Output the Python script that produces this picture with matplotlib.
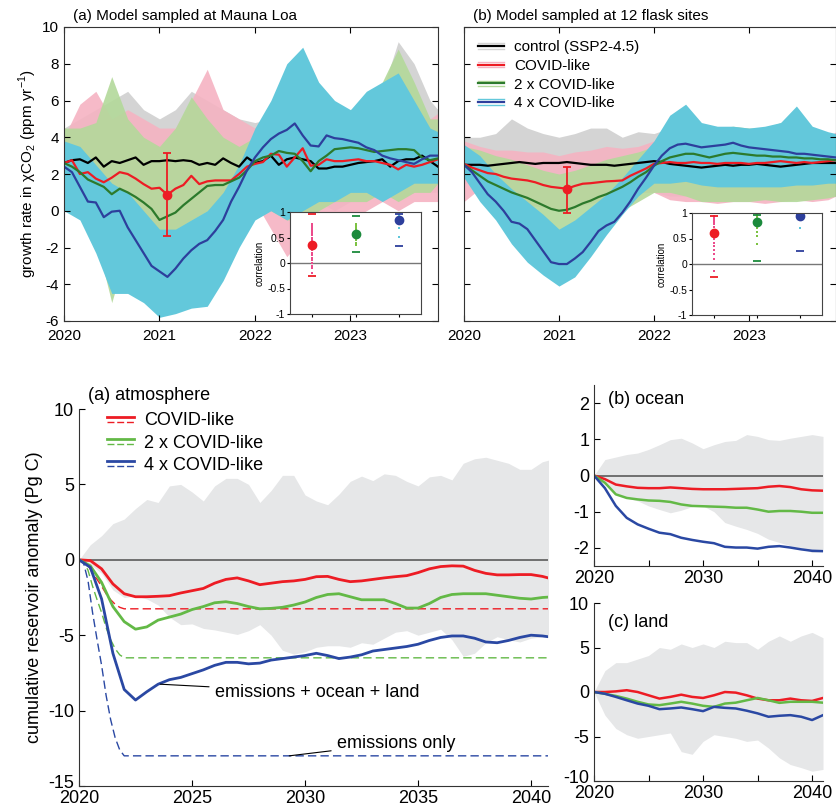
import numpy as np
import matplotlib
matplotlib.use('Agg')
import matplotlib.pyplot as plt
from matplotlib.legend_handler import HandlerBase
from matplotlib.lines import Line2D
from matplotlib.transforms import ScaledTranslation

plt.rcParams['font.family'] = ['Liberation Sans', 'DejaVu Sans']
plt.rcParams['axes.unicode_minus'] = False
plt.rcParams['mathtext.fontset'] = 'custom'
plt.rcParams['mathtext.rm'] = 'Liberation Sans'

# ---------------- top panels: monthly growth rate (ppm/yr) ----------------
months = np.arange(48)
t_month = 2020 + months / 12
env_months = np.r_[np.arange(0, 48, 2), 47]
t_env = 2020 + env_months / 12

ctrl_a = [2.6, 2.75, 2.8, 2.6, 2.9, 2.4, 2.7, 2.6, 2.75, 2.9, 2.5, 2.7, 2.7, 2.75, 2.7, 2.75,
          2.7, 2.5, 2.6, 2.5, 2.85, 2.6, 2.4, 2.9, 2.6, 2.7, 3.0, 2.5, 2.8, 2.9, 2.8, 2.7,
          2.3, 2.3, 2.4, 2.4, 2.5, 2.6, 2.65, 2.7, 2.8, 2.4, 2.7, 2.8, 2.8, 3.0, 2.7, 2.4]
covid_a = [2.6, 2.75, 2.0, 2.1, 1.75, 1.55, 1.8, 2.1, 2.0, 1.75, 1.45, 1.2, 1.25, 0.87, 1.2, 1.4,
           1.9, 1.45, 1.6, 1.65, 1.65, 1.65, 2.0, 2.4, 2.55, 2.65, 3.1, 3.05, 2.4, 2.9, 3.4, 2.45,
           2.5, 2.8, 2.7, 2.7, 2.75, 2.8, 2.7, 2.7, 2.6, 2.5, 2.25, 2.5, 2.4, 2.5, 2.65, 2.8]
covid2_a = [2.6, 2.4, 2.1, 1.7, 1.5, 1.3, 0.9, 1.2, 1.0, 0.75, 0.45, 0.1, -0.5, -0.3, -0.1, 0.3,
            0.65, 1.0, 1.35, 1.4, 1.4, 1.6, 1.8, 2.2, 2.7, 2.9, 3.0, 3.25, 3.15, 3.1, 2.7, 2.15,
            2.7, 3.0, 3.35, 3.4, 3.45, 3.4, 3.3, 3.2, 3.25, 3.3, 3.35, 3.35, 3.3, 2.9, 2.75, 2.85]
covid4_a = [2.4, 2.1, 1.3, 0.5, 0.45, -0.35, -0.05, 0.0, -0.9, -1.6, -2.3, -3.0, -3.3, -3.6, -3.15, -2.6,
            -2.15, -1.8, -1.6, -1.1, -0.5, 0.5, 1.3, 2.2, 2.9, 3.45, 3.9, 4.2, 4.4, 4.75, 4.1, 3.55,
            3.5, 4.1, 3.95, 3.9, 3.8, 3.7, 3.45, 3.3, 3.0, 2.85, 2.75, 2.65, 2.55, 2.8, 3.0, 3.0]

ctrl_b = [2.5, 2.5, 2.5, 2.45, 2.5, 2.55, 2.6, 2.65, 2.6, 2.55, 2.6, 2.6, 2.6, 2.65, 2.6, 2.55,
          2.5, 2.5, 2.5, 2.45, 2.5, 2.55, 2.6, 2.65, 2.7, 2.65, 2.55, 2.5, 2.45, 2.4, 2.35, 2.4,
          2.45, 2.5, 2.45, 2.5, 2.5, 2.55, 2.5, 2.45, 2.4, 2.45, 2.5, 2.55, 2.6, 2.6, 2.6, 2.6]
covid_b = [2.55, 2.35, 2.2, 2.05, 2.0, 1.85, 1.75, 1.7, 1.65, 1.55, 1.4, 1.3, 1.25, 1.2, 1.35, 1.47,
           1.5, 1.55, 1.6, 1.62, 1.65, 1.9, 2.1, 2.3, 2.55, 2.6, 2.65, 2.6, 2.6, 2.65, 2.6, 2.6,
           2.55, 2.6, 2.6, 2.6, 2.55, 2.6, 2.6, 2.65, 2.7, 2.65, 2.6, 2.65, 2.6, 2.65, 2.7, 2.75]
covid2_b = [2.5, 2.2, 1.9, 1.6, 1.4, 1.2, 1.0, 0.85, 0.7, 0.5, 0.3, 0.1, 0.0, 0.05, 0.2, 0.4,
            0.55, 0.75, 0.9, 1.1, 1.3, 1.55, 1.85, 2.1, 2.45, 2.7, 2.9, 3.0, 3.1, 3.1, 3.0, 2.9,
            3.0, 3.1, 3.15, 3.1, 3.05, 3.0, 3.0, 2.95, 2.95, 2.9, 2.9, 2.85, 2.85, 2.8, 2.8, 2.75]
covid4_b = [2.5, 2.1, 1.5, 0.9, 0.5, 0.0, -0.6, -0.7, -1.0, -1.6, -2.2, -2.8, -2.9, -2.9, -2.6, -2.25,
            -1.7, -1.1, -0.8, -0.6, -0.1, 0.5, 1.2, 1.8, 2.45, 3.0, 3.4, 3.6, 3.65, 3.55, 3.45, 3.5,
            3.55, 3.6, 3.7, 3.55, 3.45, 3.4, 3.35, 3.3, 3.25, 3.2, 3.1, 3.1, 3.05, 3.0, 2.95, 2.9]

# ensemble spread (upper / lower edge of the members), every second month
grey_hi_a = [4.5, 5.0, 5.5, 6.0, 6.5, 5.5, 5.0, 5.5, 6.5, 6.0, 5.5, 5.0, 4.8, 5.0, 5.5, 6.0, 5.0, 5.5, 5.0, 5.5, 6.5, 9.2, 8.0, 6.0, 5.5]
grey_lo_a = [1.5, 1.0, 1.5, 1.0, 1.5, 1.0, 1.5, 1.0, 1.0, 0.5, 0.5, 1.0, 0.5, 0.0, -0.5, 0.0, 0.5, 0.0, 0.5, 0.5, 1.0, 0.5, 1.0, 1.0, 1.0]
pink_hi_a = [4.0, 5.8, 6.5, 5.0, 5.5, 5.0, 4.5, 4.5, 6.0, 7.7, 5.5, 5.0, 4.5, 5.5, 6.0, 6.5, 5.0, 5.0, 4.5, 5.0, 6.0, 6.5, 5.5, 5.0, 5.3]
pink_lo_a = [1.0, 0.5, 0.0, -0.5, -0.5, -1.0, -1.5, -1.0, -0.5, 0.0, 0.5, 0.5, 0.5, -1.0, -2.5, -1.5, -1.0, -0.5, -0.5, 0.0, 0.5, 0.0, 0.5, 0.5, 0.5]
green_hi_a = [4.5, 4.5, 4.8, 7.3, 5.0, 4.0, 3.5, 4.5, 6.2, 5.0, 4.0, 3.5, 4.0, 5.5, 7.5, 6.0, 5.5, 5.5, 5.5, 6.0, 7.0, 8.8, 7.0, 5.0, 5.0]
green_lo_a = [1.0, 0.0, -1.5, -5.0, -2.0, -2.0, -2.0, -1.8, -1.0, -0.5, 0.0, 0.5, 0.5, 0.0, -0.5, -0.5, 0.0, 0.5, 0.5, 0.5, 1.0, 0.5, 1.0, 1.0, 1.5]
cyan_hi_a = [3.8, 3.5, 2.5, 1.5, 1.0, 0.0, -1.0, -1.0, -0.5, 0.0, 1.0, 2.5, 4.5, 6.0, 8.0, 8.9, 7.0, 6.0, 5.5, 6.5, 7.0, 7.5, 6.0, 4.5, 4.3]
cyan_lo_a = [0.0, -0.5, -2.3, -4.5, -4.5, -5.0, -5.8, -5.6, -5.3, -5.2, -3.8, -2.0, -0.5, 0.0, -0.5, 0.0, 0.5, 0.5, 1.0, 1.0, 0.5, 1.0, 1.5, 1.5, 1.5]

grey_hi_b = [4.0, 4.0, 4.2, 5.0, 4.5, 4.2, 4.0, 4.2, 4.5, 4.5, 4.0, 4.3, 4.2, 4.5, 5.0, 4.5, 4.2, 4.0, 4.3, 4.5, 4.5, 4.8, 4.5, 4.2, 4.0]
grey_lo_b = [1.5, 1.5, 1.5, 1.3, 1.2, 1.0, 1.0, 1.2, 1.3, 1.3, 1.2, 1.2, 1.0, 0.8, 0.8, 0.7, 0.8, 0.8, 0.8, 0.7, 0.8, 0.8, 0.9, 1.0, 1.0]
pink_hi_b = [3.8, 3.5, 3.3, 3.3, 3.2, 3.2, 3.0, 3.2, 3.3, 3.5, 3.4, 3.5, 3.8, 4.0, 4.2, 4.0, 3.8, 4.0, 4.2, 4.0, 4.5, 4.2, 4.0, 4.0, 4.3]
pink_lo_b = [0.5, 1.2, 0.8, 0.5, 0.3, 0.2, 0.0, 0.2, 0.4, 0.6, 0.8, 1.0, 1.0, 0.6, 0.5, 0.5, 0.4, 0.5, 0.5, 0.4, 0.5, 0.6, 0.5, 0.6, 0.8]
green_hi_b = [3.5, 3.3, 3.0, 2.8, 2.5, 2.2, 2.0, 2.2, 2.5, 2.8, 3.0, 3.2, 3.5, 4.2, 4.5, 4.5, 4.5, 4.6, 4.5, 4.5, 4.8, 5.0, 4.5, 4.2, 4.0]
green_lo_b = [1.8, 1.0, 0.5, 0.0, -0.5, -1.0, -1.5, -1.3, -1.0, -0.5, 0.0, 0.5, 1.0, 1.0, 0.8, 0.5, 0.5, 0.5, 0.5, 0.6, 0.5, 0.5, 0.6, 0.7, 0.8]
cyan_hi_b = [3.6, 3.0, 2.0, 1.2, 0.5, -0.2, -1.0, -0.5, 0.2, 0.9, 1.8, 2.8, 3.8, 5.2, 5.8, 4.8, 4.6, 4.6, 4.5, 4.6, 4.8, 5.7, 4.6, 4.3, 4.2]
cyan_lo_b = [1.8, 0.5, -0.5, -1.8, -2.8, -3.5, -4.1, -3.6, -2.5, -1.3, -0.2, 0.8, 1.5, 1.5, 1.6, 1.4, 1.3, 1.3, 1.3, 1.3, 1.3, 1.4, 1.4, 1.5, 1.5]

# error bar on the COVID-like mean (centre, low, high)
err_t = 2021.083
err_a = (0.87, -1.35, 3.12)
err_b = (1.18, -0.1, 2.4)

# inset correlations: ensemble mean, member values, min, max
corr_mean_a = [0.36, 0.56, 0.85]
corr_min_a = [-0.26, 0.22, 0.33]
corr_max_a = [0.97, 0.92, 0.97]
corr_dots_a = [[0.77, 0.74, 0.70, 0.66, 0.62, 0.58, 0.55, 0.50, 0.46, 0.42, 0.38, 0.33, 0.30, 0.25,
                0.20, 0.15, 0.10, 0.05, 0.0, -0.05, -0.1, -0.2],
               [0.77, 0.74, 0.70, 0.66, 0.62, 0.60, 0.52, 0.48, 0.45, 0.40, 0.36],
               [0.95, 0.92, 0.68, 0.51]]
corr_mean_b = [0.61, 0.83, 0.95]
corr_min_b = [-0.26, 0.05, 0.26]
corr_max_b = [0.95, 0.97, 0.99]
corr_dots_b = [[0.95, 0.9, 0.86, 0.82, 0.78, 0.72, 0.66, 0.58, 0.5, 0.42, 0.35, 0.27, 0.2, 0.1, -0.13],
               [0.97, 0.93, 0.9, 0.86, 0.78, 0.74, 0.7, 0.62, 0.55, 0.4],
               [0.97, 0.71]]

# ---------------- bottom panels: cumulative reservoir anomaly (Pg C) ----------------
atm_t = np.arange(2020, 2041.01, 0.5)
atm_covid = [0, -0.05, -0.6, -1.6, -2.25, -2.45, -2.45, -2.42, -2.38, -2.2, -2.05, -1.9, -1.55, -1.3, -1.2,
             -1.4, -1.65, -1.55, -1.45, -1.4, -1.3, -1.12, -1.1, -1.3, -1.45, -1.4, -1.3, -1.2, -1.12,
             -1.05, -0.85, -0.6, -0.45, -0.4, -0.42, -0.7, -0.9, -1.0, -1.0, -0.98, -0.98, -1.1, -1.3]
atm_covid2 = [0, -0.4, -1.5, -3.1, -4.1, -4.6, -4.45, -4.0, -3.8, -3.6, -3.3, -3.1, -2.85, -2.78, -2.9,
              -3.1, -3.25, -3.22, -3.15, -3.0, -2.8, -2.5, -2.3, -2.25, -2.45, -2.65, -2.65, -2.65, -2.9,
              -3.2, -3.2, -2.9, -2.5, -2.3, -2.25, -2.25, -2.25, -2.35, -2.45, -2.55, -2.6, -2.5, -2.45]
atm_covid4 = [0, -0.5, -2.6, -6.2, -8.6, -9.3, -8.75, -8.25, -7.95, -7.8, -7.55, -7.3, -7.0, -6.8, -6.8,
              -6.9, -6.85, -6.65, -6.55, -6.45, -6.35, -6.2, -6.35, -6.55, -6.45, -6.3, -6.05, -5.95, -5.85,
              -5.75, -5.6, -5.35, -5.15, -5.05, -5.05, -5.2, -5.45, -5.5, -5.35, -5.15, -5.0, -5.05, -5.15]
atm_hi = [0, 1.0, 1.6, 2.4, 2.7, 3.4, 4.0, 3.8, 4.9, 5.0, 4.5, 3.9, 4.9, 5.4, 5.4, 5.0, 3.8, 4.6, 5.6, 5.6,
          4.3, 3.9, 3.65, 4.35, 5.2, 5.55, 5.25, 5.7, 5.6, 5.2, 4.9, 5.5, 5.6, 5.3, 6.4, 6.7, 6.8, 6.6,
          6.4, 6.0, 6.0, 6.5, 6.7]
atm_lo = [0, -0.3, -0.9, -2.0, -2.5, -2.4, -2.6, -3.0, -3.8, -4.3, -4.25, -4.55, -4.65, -4.8, -4.95, -4.7,
          -4.3, -5.0, -6.0, -6.25, -6.1, -5.8, -5.7, -5.7, -5.8, -5.5, -5.6, -5.2, -4.8, -4.7, -5.0, -4.8,
          -4.6, -5.3, -6.4, -6.2, -5.5, -5.1, -5.3, -5.45, -5.2, -5.1, -5.2]
emis_t = [2020, 2020.2, 2020.4, 2020.6, 2020.8, 2021.0, 2021.2, 2021.4, 2021.6, 2021.8, 2022.0, 2041]
emis_covid = [0, -0.05, -0.35, -0.9, -1.3, -1.75, -2.25, -2.65, -2.95, -3.15, -3.25, -3.25]
emis_covid2 = [0, -0.1, -0.7, -1.75, -2.65, -3.5, -4.5, -5.3, -5.9, -6.3, -6.5, -6.5]
emis_covid4 = [0, -0.2, -1.4, -3.5, -5.3, -7.0, -9.0, -10.6, -11.8, -12.6, -13.0, -13.0]

yr = np.arange(2020, 2042)
ocean_covid = [0, -0.1, -0.25, -0.3, -0.34, -0.35, -0.35, -0.33, -0.35, -0.37, -0.38, -0.38, -0.38, -0.37,
               -0.36, -0.35, -0.31, -0.29, -0.32, -0.38, -0.41, -0.42]
ocean_covid2 = [0, -0.2, -0.52, -0.62, -0.66, -0.69, -0.7, -0.73, -0.8, -0.84, -0.85, -0.86, -0.87, -0.89,
                -0.89, -0.94, -1.0, -0.98, -0.98, -1.0, -1.03, -1.03]
ocean_covid4 = [0, -0.35, -0.84, -1.17, -1.35, -1.47, -1.58, -1.62, -1.72, -1.78, -1.83, -1.87, -1.97, -1.99,
                -1.99, -2.02, -1.97, -1.95, -1.99, -2.04, -2.08, -2.09]
ocean_hi = [0, 0.44, 0.51, 0.58, 0.62, 0.72, 0.85, 0.99, 1.03, 0.9, 0.74, 0.85, 0.94, 0.97, 1.13, 1.08, 0.99,
            0.97, 1.03, 1.08, 1.13, 1.08]
ocean_lo = [0, -0.25, -0.48, -0.62, -0.7, -0.84, -0.94, -1.03, -0.96, -0.86, -0.84, -1.0, -1.3, -1.4, -1.49,
            -1.6, -1.76, -1.85, -1.94, -2.0, -2.13, -2.1]
land_covid = [0, 0, 0.07, 0.2, 0.0, -0.37, -0.74, -0.55, -0.3, -0.55, -0.67, -0.37, 0.0, -0.07, -0.37, -0.74,
              -0.93, -0.93, -0.74, -0.93, -1.0, -0.67]
land_covid2 = [0, -0.2, -0.44, -0.74, -1.1, -1.4, -1.48, -1.3, -1.1, -1.3, -1.55, -1.67, -1.3, -1.2, -0.93,
               -0.67, -0.93, -1.22, -1.1, -1.1, -1.1, -1.2]
land_covid4 = [0, -0.2, -0.55, -0.93, -1.3, -1.55, -1.93, -1.85, -1.74, -1.93, -2.15, -1.67, -1.78, -1.85, -2.1,
               -2.4, -2.78, -2.67, -2.6, -2.78, -3.15, -2.6]
land_hi = [0, 2.4, 3.3, 3.3, 3.7, 4.1, 5.0, 4.8, 5.4, 5.0, 5.4, 5.0, 5.7, 5.55, 5.55, 4.8, 5.7, 6.3, 5.7, 6.3,
           6.7, 6.1]
land_lo = [0, -2.6, -4.1, -4.8, -5.2, -5.0, -4.8, -4.6, -6.7, -7.0, -5.55, -4.8, -5.0, -5.2, -5.55, -5.4, -6.3,
           -7.4, -8.15, -8.5, -8.9, -8.7]

# colours
c_ctrl, c_ctrl_l = '#000000', '#d4d4d4'
c_red, c_red_l = '#ed1c24', '#f5b3c2'
c_dgr, c_dgr_l = '#2c7a2c', '#b3d99a'
c_dbl, c_dbl_l = '#2d3f9c', '#63c8db'
c_grn2 = '#63b946'
c_blu2 = '#2a48a3'
c_band = '#e6e7e8'


class Stack:
    def __init__(self, specs):
        self.specs = specs


class HandlerStack(HandlerBase):
    def create_artists(self, legend, orig_handle, xdescent, ydescent, width, height, fontsize, trans):
        arts = []
        y0 = (height - ydescent) / 2.
        for dy, kw in orig_handle.specs:
            arts.append(Line2D([-xdescent, width - xdescent], [y0 + dy, y0 + dy], transform=trans, **kw))
        return arts


def top_panel(ax, means, envs, err, title, ylabels=True):
    for (hi, lo), col, a in zip(envs, [c_ctrl_l, c_red_l, c_dgr_l, c_dbl_l], [1, 0.9, 0.9, 1]):
        ax.fill_between(t_env, lo, hi, color=col, alpha=a, lw=0)
    for m, col in zip(means, [c_ctrl, c_red, c_dgr, c_dbl]):
        ax.plot(t_month, m, color=col, lw=1.6)
    c, lo, hi = err
    ax.errorbar([err_t], [c], yerr=[[c - lo], [hi - c]], color=c_red, lw=1.3, capsize=3,
                capthick=1.3, marker='o', ms=6)
    ax.set_xlim(2020, 2023.917)
    ax.set_ylim(-6, 10)
    ax.set_xticks([2020, 2021, 2022, 2023])
    ax.set_yticks(np.arange(-6, 11, 2))
    if not ylabels:
        ax.set_yticklabels([])
    ax.tick_params(direction='in', top=True, right=True, labelsize=11, length=4)
    ax.tick_params(axis='x', pad=6)
    for s in ax.spines.values():
        s.set_color('#333333')
    ax.text(0.025, 1.015, title, transform=ax.transAxes, fontsize=11, va='bottom', ha='left')


def inset(ax, mean, dots, mn, mx):
    ax.axhline(0, color='#777777', lw=1)
    dot_cols = ['#ec4c8c', '#7cc242', '#5ec6da']
    main_cols = [c_red, '#1b8a3c', c_dbl]
    for i in range(3):
        x = i + 1
        ax.plot([x] * len(dots[i]), dots[i], 's', ms=1.6, color=dot_cols[i], mew=0)
        ax.plot([x, x], [mn[i], mx[i]], '_', ms=6, mew=1.3, color=main_cols[i])
        ax.plot([x], [mean[i]], 'o', ms=6, color=main_cols[i])
    ax.set_xlim(0.5, 3.5)
    ax.set_ylim(-1, 1)
    ax.set_xticks([1, 2, 3])
    ax.set_xticklabels([])
    ax.set_yticks([-1, -0.5, 0, 0.5, 1])
    ax.set_yticklabels(['-1', '-0.5', '0', '0.5', '1'])
    ax.tick_params(direction='out', labelsize=7.5, length=2, pad=1.5)
    ax.set_ylabel('correlation', fontsize=7, labelpad=2)
    for s in ax.spines.values():
        s.set_color('#444444')


W, H = 836, 811
fig = plt.figure(figsize=(W / 100, H / 100), dpi=100)


def box(l, t, r, b):
    return [l / W, 1 - b / H, (r - l) / W, (b - t) / H]


ax_a = fig.add_axes(box(64, 27, 438, 321))
ax_b = fig.add_axes(box(464, 27, 836, 321))

top_panel(ax_a, [ctrl_a, covid_a, covid2_a, covid4_a],
          [(grey_hi_a, grey_lo_a), (pink_hi_a, pink_lo_a), (green_hi_a, green_lo_a), (cyan_hi_a, cyan_lo_a)],
          err_a, '(a) Model sampled at Mauna Loa')
top_panel(ax_b, [ctrl_b, covid_b, covid2_b, covid4_b],
          [(grey_hi_b, grey_lo_b), (pink_hi_b, pink_lo_b), (green_hi_b, green_lo_b), (cyan_hi_b, cyan_lo_b)],
          err_b, '(b) Model sampled at 12 flask sites', ylabels=False)
ax_a.set_ylabel('growth rate in χCO$_2$ (ppm yr$^{-1}$)', fontsize=11, labelpad=2)

top_handles = [Stack([(2, dict(color=l, lw=1)), (-2, dict(color=l, lw=1)), (0, dict(color=d, lw=1.6))])
               for d, l in [(c_ctrl, c_ctrl_l), (c_red, c_red_l), (c_dgr, c_dgr_l), (c_dbl, c_dbl_l)]]
ax_b.legend(top_handles, ['control (SSP2-4.5)', 'COVID-like', '2 x COVID-like', '4 x COVID-like'],
            handler_map={Stack: HandlerStack()}, loc='upper left', bbox_to_anchor=(0.02, 0.975),
            frameon=False, fontsize=11, handlelength=1.7, handletextpad=0.7, labelspacing=0.3,
            borderaxespad=0)

in_a = fig.add_axes(box(290, 212, 421, 314))
in_b = fig.add_axes(box(692, 213, 822, 315))
inset(in_a, corr_mean_a, corr_dots_a, corr_min_a, corr_max_a)
inset(in_b, corr_mean_b, corr_dots_b, corr_min_b, corr_max_b)

# ---------------- bottom ----------------
def bottom_style(ax, size=13):
    ax.spines['top'].set_visible(False)
    ax.spines['right'].set_visible(False)
    for s in ax.spines.values():
        s.set_color('#333333')
    ax.tick_params(direction='in', labelsize=size, length=4)
    ax.tick_params(axis='x', pad=3)


def lift_lowest(ax):
    lab = ax.yaxis.get_major_ticks()[0].label1
    lab.set_transform(lab.get_transform() + ScaledTranslation(0, 3 / 72, fig.dpi_scale_trans))


ax_atm = fig.add_axes(box(79, 409, 548, 786))
ax_atm.fill_between(atm_t, atm_lo, atm_hi, color=c_band, lw=0)
ax_atm.axhline(0, color='#666666', lw=1.3)
ax_atm.plot(emis_t, emis_covid, '--', color=c_red, lw=1, dashes=(6, 3))
ax_atm.plot(emis_t, emis_covid2, '--', color=c_grn2, lw=1, dashes=(6, 3))
ax_atm.plot(emis_t, emis_covid4, '--', color=c_blu2, lw=1, dashes=(6, 3))
ax_atm.plot(atm_t, atm_covid, color=c_red, lw=2)
ax_atm.plot(atm_t, atm_covid2, color=c_grn2, lw=2)
ax_atm.plot(atm_t, atm_covid4, color=c_blu2, lw=2)
ax_atm.set_xlim(2020, 2040.75)
ax_atm.set_ylim(-15, 10)
ax_atm.set_xticks([2020, 2025, 2030, 2035, 2040])
ax_atm.set_yticks([-15, -10, -5, 0, 5, 10])
bottom_style(ax_atm)
lift_lowest(ax_atm)
ax_atm.set_ylabel('cumulative reservoir anomaly (Pg C)', fontsize=13, labelpad=4)
ax_atm.text(0.02, 1.035, '(a) atmosphere', transform=ax_atm.transAxes, fontsize=13, va='center')
ax_atm.annotate('emissions + ocean + land', xy=(2023.6, -8.25), xytext=(2026.0, -8.8),
                fontsize=13, va='center', ha='left',
                arrowprops=dict(arrowstyle='-', color='k', lw=0.8, shrinkA=2, shrinkB=0))
ax_atm.annotate('emissions only', xy=(2029.3, -13.0), xytext=(2031.4, -12.15),
                fontsize=13, va='center', ha='left',
                arrowprops=dict(arrowstyle='-', color='k', lw=0.8, shrinkA=2, shrinkB=0))
bot_handles = [Stack([(1.8, dict(color=c, lw=2)), (-1.8, dict(color=c, lw=1, ls=(0, (5, 2))))])
               for c in [c_red, c_grn2, c_blu2]]
ax_atm.legend(bot_handles, ['COVID-like', '2 x COVID-like', '4 x COVID-like'],
              handler_map={Stack: HandlerStack()}, loc='upper left', bbox_to_anchor=(0.045, 1.01),
              frameon=False, fontsize=13, handlelength=1.5, handletextpad=0.55, labelspacing=0.3,
              borderaxespad=0)

ax_oc = fig.add_axes(box(594, 385, 823, 566))
ax_oc.fill_between(yr, ocean_lo, ocean_hi, color=c_band, lw=0)
ax_oc.axhline(0, color='#666666', lw=1.3)
ax_oc.plot(yr, ocean_covid, color=c_red, lw=1.8)
ax_oc.plot(yr, ocean_covid2, color=c_grn2, lw=1.8)
ax_oc.plot(yr, ocean_covid4, color=c_blu2, lw=1.8)
ax_oc.set_xlim(2020, 2041)
ax_oc.set_ylim(-2.5, 2.5)
ax_oc.set_yticks([-2, -1, 0, 1, 2])
ax_oc.set_xticks([2020, 2025, 2030, 2035, 2040])
ax_oc.set_xticklabels(['2020', '', '2030', '', '2040'])
bottom_style(ax_oc)
ax_oc.text(0.06, 0.92, '(b) ocean', transform=ax_oc.transAxes, fontsize=13, va='center')

ax_ld = fig.add_axes(box(594, 603, 823, 781))
ax_ld.fill_between(yr, land_lo, land_hi, color=c_band, lw=0)
ax_ld.plot(yr, land_covid, color=c_red, lw=1.8)
ax_ld.plot(yr, land_covid2, color=c_grn2, lw=1.8)
ax_ld.plot(yr, land_covid4, color=c_blu2, lw=1.8)
ax_ld.set_xlim(2020, 2041)
ax_ld.set_ylim(-10, 10)
ax_ld.set_yticks([-10, -5, 0, 5, 10])
ax_ld.set_xticks([2020, 2025, 2030, 2035, 2040])
ax_ld.set_xticklabels(['2020', '', '2030', '', '2040'])
bottom_style(ax_ld)
lift_lowest(ax_ld)
ax_ld.text(0.06, 0.89, '(c) land', transform=ax_ld.transAxes, fontsize=13, va='center')

fig.savefig('out.png', dpi=100)
